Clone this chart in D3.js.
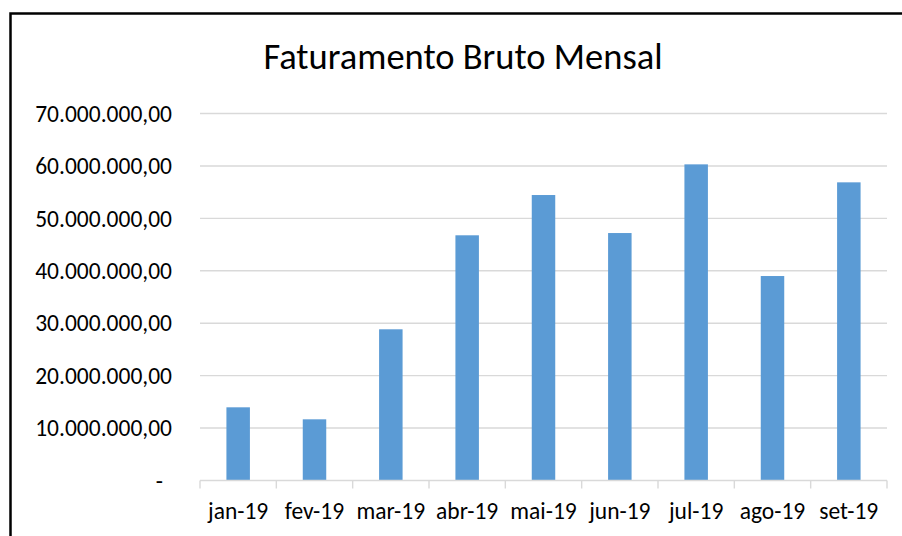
<!DOCTYPE html>
<html>
<head>
<meta charset="utf-8">
<script src="https://cdn.jsdelivr.net/npm/d3@7"></script>
<style>
  body { margin: 0; background: #fff; }
  text { font-family: Carlito, Calibri, Lato, sans-serif; fill: #000; }
</style>
</head>
<body>
<div id="chart-area"></div>
<script>
// Faturamento bruto mensal, 2019

var months = ["jan-19", "fev-19", "mar-19", "abr-19", "mai-19", "jun-19", "jul-19", "ago-19", "set-19"];
var revenue = [13960000, 11670000, 28840000, 46770000, 54450000, 47200000, 60300000, 39000000, 56870000];
var yTicks = [0, 10000000, 20000000, 30000000, 40000000, 50000000, 60000000, 70000000];

var W = 902, H = 536;
var margin = { left: 200, right: 15, top: 113.5, bottom: 55.5 },
    width = W - margin.left - margin.right,
    height = H - margin.top - margin.bottom;

var svg = d3.select("#chart-area")
    .append("svg")
    .attr("width", W)
    .attr("height", H);

// outer frame (runs off the right and bottom edges)
svg.append("rect")
    .attr("x", 10.5)
    .attr("y", 13.5)
    .attr("width", 1000)
    .attr("height", 1000)
    .attr("fill", "none")
    .attr("stroke", "#000")
    .attr("stroke-width", 2.5);

svg.append("text")
    .attr("x", 463)
    .attr("y", 69)
    .attr("text-anchor", "middle")
    .attr("font-size", "36.5px")
    .text("Faturamento Bruto Mensal");

var g = svg.append("g")
    .attr("transform", "translate(" + margin.left + "," + margin.top + ")");

// Scales
var x = d3.scaleBand()
    .domain(months)
    .range([0, width])
    .paddingInner(1 - 1 / 3.25)
    .paddingOuter((1 - 1 / 3.25) / 2);

var xb = d3.scaleBand().domain(months).range([0, width]);

var y = d3.scaleLinear()
    .domain([0, 70000000])
    .range([height, 0]);

// number format pt-BR: 70.000.000,00
var fmt = function(v) {
    if (v === 0) return "-";
    return d3.format(",.2f")(v).replace(/,/g, "#").replace(/\./g, ",").replace(/#/g, ".");
};

// Gridlines
g.selectAll(".grid")
    .data(yTicks.filter(function(d) { return d > 0; }))
    .enter().append("line")
    .attr("class", "grid")
    .attr("x1", 0)
    .attr("x2", width)
    .attr("y1", function(d) { return y(d); })
    .attr("y2", function(d) { return y(d); })
    .attr("stroke", "#d9d9d9")
    .attr("stroke-width", 1.4);

// Y labels
g.selectAll(".ylab")
    .data(yTicks)
    .enter().append("text")
    .attr("class", "ylab")
    .attr("x", function(d) { return d === 0 ? -37 : -28; })
    .attr("y", function(d) { return y(d); })
    .attr("dy", "0.35em")
    .attr("text-anchor", "end")
    .attr("font-size", "23.5px")
    .text(fmt);

// Bars
g.selectAll(".bar")
    .data(revenue)
    .enter().append("rect")
    .attr("class", "bar")
    .attr("x", function(d, i) { return x(months[i]); })
    .attr("width", x.bandwidth())
    .attr("y", function(d) { return y(d); })
    .attr("height", function(d) { return height - y(d); })
    .attr("fill", "#5b9bd5");

// X axis
var xAxis = g.append("g")
    .attr("transform", "translate(0," + height + ")");

xAxis.append("line")
    .attr("x1", 0)
    .attr("x2", width)
    .attr("stroke", "#d9d9d9")
    .attr("stroke-width", 1.4);

var bounds = months.map(function(m) { return xb(m); }).concat([width]);
xAxis.selectAll(".tick")
    .data(bounds)
    .enter().append("line")
    .attr("x1", function(d) { return d; })
    .attr("x2", function(d) { return d; })
    .attr("y1", 0)
    .attr("y2", 8)
    .attr("stroke", "#d9d9d9")
    .attr("stroke-width", 1.4);

xAxis.selectAll(".xlab")
    .data(months)
    .enter().append("text")
    .attr("class", "xlab")
    .attr("x", function(d) { return xb(d) + xb.bandwidth() / 2; })
    .attr("y", 38)
    .attr("text-anchor", "middle")
    .attr("font-size", "23.5px")
    .text(function(d) { return d; });
</script>
</body>
</html>
